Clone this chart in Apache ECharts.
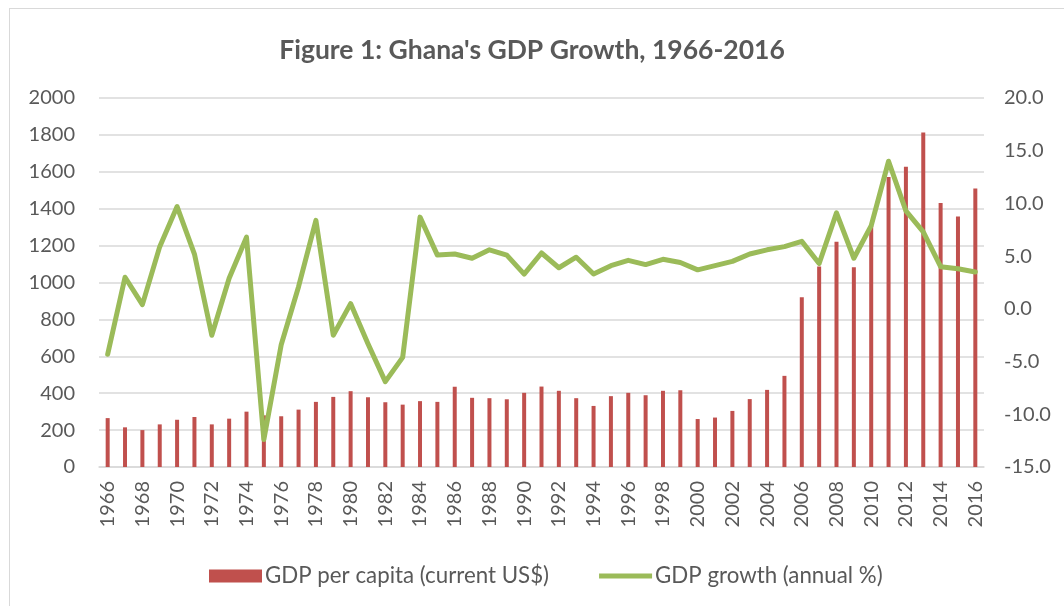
<!DOCTYPE html>
<html>
<head>
<meta charset="utf-8">
<script src="https://cdn.jsdelivr.net/npm/echarts@6/dist/echarts.min.js"></script>
<style>
html,body{margin:0;padding:0;background:#fff;overflow:hidden;}
#frame{position:absolute;left:9px;top:8px;width:1080px;height:620px;border:1.5px solid #d9d9d9;box-sizing:border-box;}
#container1{position:absolute;left:0;top:0;width:1064px;height:606px;}
</style>
</head>
<body>
<div id="frame"></div>
<div id="container1"></div>
<script>
var years = [];
for (var y = 1966; y <= 2016; y++) { years.push(String(y)); }

// GDP per capita (current US$)
var gdpPerCapita = [
  265, 215, 200, 231, 256, 271, 231, 262, 300, 280,
  275, 311, 353, 380, 411, 378, 351, 338, 357, 353,
  435, 375, 373, 367, 402, 436, 413, 373, 331, 384,
  402, 389, 413, 416, 260, 268, 304, 368, 418, 494,
  920, 1087, 1221, 1083, 1308, 1572, 1628, 1813, 1431, 1358,
  1510
];

// GDP growth (annual %)
var gdpGrowth = [
  -4.3, 3.0, 0.4, 5.9, 9.7, 5.2, -2.5, 2.9, 6.8, -12.4,
  -3.4, 2.1, 8.4, -2.5, 0.5, -3.3, -6.9, -4.6, 8.7, 5.1,
  5.2, 4.8, 5.6, 5.1, 3.3, 5.3, 3.9, 4.9, 3.3, 4.1,
  4.6, 4.2, 4.7, 4.4, 3.7, 4.1, 4.5, 5.2, 5.6, 5.9,
  6.4, 4.3, 9.1, 4.8, 7.9, 14.0, 9.3, 7.3, 4.0, 3.8,
  3.5
];

var myChart = echarts.init(document.getElementById('container1'));
var txt = '#595959';
var fam = 'Lato, "Open Sans", sans-serif';

var option = {
  animation: false,
  textStyle: { fontFamily: fam },
  title: {
    text: "Figure 1: Ghana's GDP Growth, 1966-2016",
    left: 'center',
    top: 32,
    textStyle: { fontFamily: fam, fontSize: 26.5, fontWeight: 'bold', color: txt }
  },
  legend: {
    top: 560,
    left: 204,
    itemGap: 50,
    itemWidth: 53,
    itemHeight: 13,
    symbolKeepAspect: true,
    textStyle: { fontFamily: fam, fontSize: 22.3, color: txt, padding: [0, 0, 0, -2] },
    data: [
      { name: 'GDP per capita (current US$)', icon: 'rect' },
      { name: 'GDP growth (annual %)', icon: 'path://M0,0H53V5H0Z' }
    ]
  },
  grid: { left: 99, right: 80, top: 98, bottom: 139, containLabel: false },
  xAxis: {
    type: 'category',
    data: years,
    axisTick: { show: false },
    axisLine: { lineStyle: { color: '#d9d9d9', width: 1.5 } },
    axisLabel: { interval: 1, rotate: 90, fontSize: 20, color: txt, margin: 14 }
  },
  yAxis: [{
    type: 'value',
    min: 0, max: 2000, interval: 200,
    axisLine: { show: false },
    axisTick: { show: false },
    axisLabel: { fontSize: 20, color: txt, margin: 24, formatter: function (v) { return String(v); } },
    splitLine: { lineStyle: { color: '#d9d9d9', width: 1.5 } }
  }, {
    type: 'value',
    min: -15, max: 20, interval: 5,
    axisLine: { show: false },
    axisTick: { show: false },
    axisLabel: { fontSize: 20, color: txt, margin: 20, formatter: function (v) { return v.toFixed(1); } },
    splitLine: { show: false }
  }],
  series: [{
    name: 'GDP per capita (current US$)',
    type: 'bar',
    data: gdpPerCapita,
    barWidth: 4,
    itemStyle: { color: '#C0504D' }
  }, {
    name: 'GDP growth (annual %)',
    type: 'line',
    yAxisIndex: 1,
    data: gdpGrowth,
    symbol: 'none',
    lineStyle: { color: '#9BBB59', width: 5, cap: 'round', join: 'round' },
    itemStyle: { color: '#9BBB59' }
  }]
};
myChart.setOption(option);
</script>
</body>
</html>
